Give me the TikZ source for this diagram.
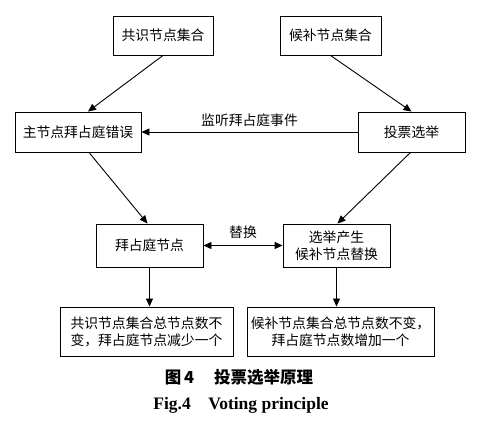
\documentclass[tikz,border=0pt]{standalone}
\usepackage{fontspec}
\setmainfont{Liberation Serif}
\newfontfamily\cjk{Noto Sans CJK SC}
\usetikzlibrary{arrows.meta,calc}
\tikzset{
  box/.style={draw=black,line width=0.9pt,rectangle,inner sep=0pt,align=center,
    font=\cjk\fontsize{13.8}{17}\selectfont},
  arr/.style={line width=0.9pt,-{Triangle[length=8pt,width=7pt]}},
  darr/.style={line width=0.9pt,{Triangle[length=8pt,width=7pt]}-{Triangle[length=8pt,width=7pt]}},
  lbl/.style={font=\cjk\fontsize{13.8}{17}\selectfont,inner sep=0pt}
}
\begin{document}
\begin{tikzpicture}[x=1pt,y=-1pt]
\useasboundingbox (0,0) rectangle (488,425);
\fill[white] (0,0) rectangle (488,425);
\node[box,minimum width=100pt,minimum height=39pt] (A) at (163,35.5) {共识节点集合};
\node[box,minimum width=101pt,minimum height=39pt] (B) at (330.5,35.5) {候补节点集合};
\node[box,minimum width=126pt,minimum height=40pt] (C) at (78,132) {主节点拜占庭错误};
\node[box,minimum width=107pt,minimum height=40pt] (D) at (411.5,132) {投票选举};
\node[box,minimum width=107pt,minimum height=43pt] (E) at (149.5,245.5) {拜占庭节点};
\node[box,minimum width=107pt,minimum height=43pt] (F) at (336.5,245.5) {选举产生\\候补节点替换};
\node[box,minimum width=173pt,minimum height=49pt,align=left] (G) at (146.5,331.5) {共识节点集合总节点数不\\变，拜占庭节点减少一个};
\node[box,minimum width=187pt,minimum height=49pt] (H) at (340.5,331.5) {候补节点集合总节点数不变，\\拜占庭节点数增加一个};

\draw[arr] (A.south) -- ([xshift=10pt]C.north);
\draw[arr] (B.south) -- (D.north);
\draw[arr] (D.west) -- node[lbl,above=5pt] (l1) {监听拜占庭事件} (C.east);
\draw[arr] ([xshift=11pt]C.south) -- ([xshift=-2pt]E.north);
\draw[arr] ([xshift=-1pt]D.south) -- ([xshift=1pt]F.north);
\draw[darr] (E.east) -- node[lbl,above=6pt] (l2) {替换} (F.east -| F.west);
\draw[arr] (E.south) -- (E.south |- G.north);
\draw[arr] (F.south) -- (F.south |- H.north);

\node[inner sep=0pt,font=\cjk\bfseries\fontsize{16.5}{18}\selectfont] (cap1) at (239,377) {图\,4\hspace{1.2em}投票选举原理};
\node[inner sep=0pt,font=\bfseries\fontsize{17.5}{19}\selectfont] (cap2) at (241,405) {Fig.4\hspace{1em}Voting principle};
\end{tikzpicture}
\end{document}
